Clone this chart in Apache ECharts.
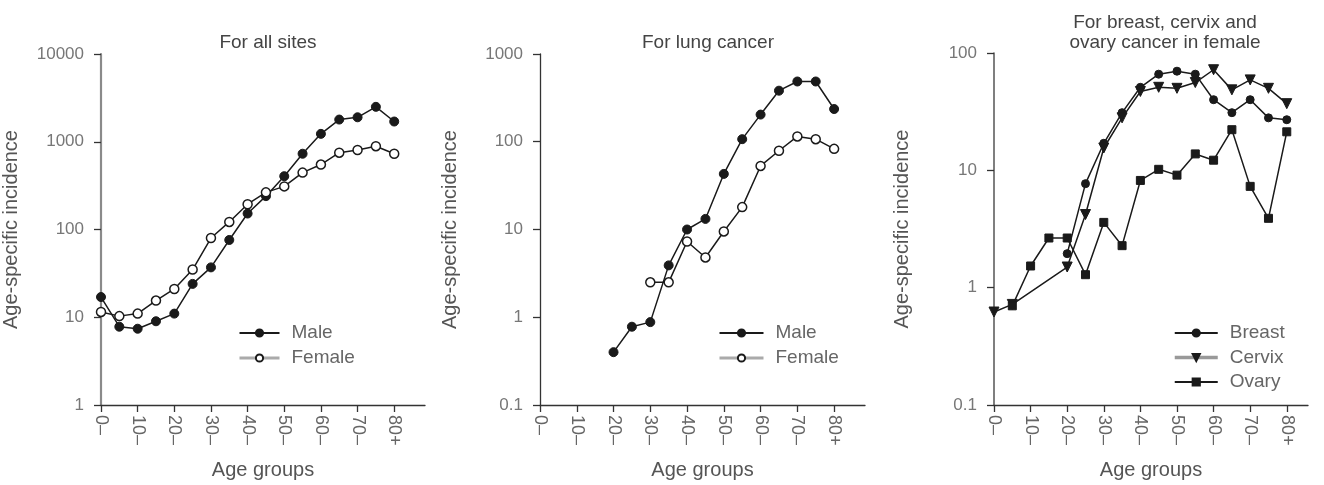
<!DOCTYPE html>
<html>
<head>
<meta charset="utf-8">
<script src="https://cdn.jsdelivr.net/npm/echarts@6/dist/echarts.min.js"></script>
<style>
html,body{margin:0;padding:0;background:#fff;}
#c{width:1324px;height:485px;}
</style>
</head>
<body>
<div id="c"></div>
<script>
// ---- data ----
const ageStarts = [0,5,10,15,20,25,30,35,40,45,50,55,60,65,70,75,80];
const tickValues = [0,10,20,30,40,50,60,70,80];
const tickLabels = ['0–','10–','20–','30–','40–','50–','60–','70–','80+'];

const allMale   = [17,7.8,7.4,9,11,24,37,76,152,240,405,730,1230,1790,1900,2500,1700];
const allFemale = [11.5,10.3,11,15.5,21,35,80,122,194,265,310,445,550,750,805,890,730];

const lungMale   = [null,null,null,null,0.4,0.78,0.88,3.9,10,13.2,43,107,204,382,486,486,236];
const lungFemale = [null,null,null,null,null,null,2.5,2.5,7.3,4.8,9.5,18,53,79,115,107,83];

const breast = [null,null,null,null,1.95,7.7,17,31,51,66,70,66,40,31,40,28,27];
const cervix = [0.62,0.72,null,null,1.5,4.2,15.5,28,47,51,50,56,72,48.5,59,50,37];
const ovary  = [null,0.7,1.53,2.65,2.65,1.29,3.6,2.28,8.2,10.2,9.1,13.8,12.2,22.2,7.3,3.9,21.3];

// ---- helpers ----
const ink = '#1a1a1a';
const FONT = 'Liberation Sans';
function pts(vals){ return ageStarts.map((a,i)=>[a, vals[i]]).filter(p=>p[1]!==null); }

function xAxis(gi, max){
  return {
    type:'value', gridIndex:gi, min:0, max:max,
    name:'Age groups', nameLocation:'middle', nameGap:55,
    nameTextStyle:{fontFamily:FONT,fontSize:20,color:'#555'},
    axisLine:{show:true,lineStyle:{color:'#333',width:1.3}},
    axisTick:{show:true,length:7,lineStyle:{color:'#333',width:1.3},customValues:tickValues},
    axisLabel:{show:true,rotate:-90,margin:10,fontFamily:FONT,fontSize:18,color:'#666',
      customValues:tickValues,
      formatter:function(v){ const i = tickValues.indexOf(Math.round(v)); return i>=0 ? tickLabels[i] : ''; }},
    splitLine:{show:false}
  };
}
function yAxis(gi, min, max, lineColor, lineWidth, gap){
  return {
    type:'log', logBase:10, gridIndex:gi, min:min, max:max,
    name:'Age-specific incidence', nameLocation:'middle', nameGap:gap,
    nameTextStyle:{fontFamily:FONT,fontSize:20,color:'#555'},
    axisLine:{show:true,lineStyle:{color:lineColor,width:lineWidth}},
    axisTick:{show:true,length:7,lineStyle:{color:'#333',width:1.3}},
    axisLabel:{show:true,margin:17,fontFamily:FONT,fontSize:17,color:'#777',
      formatter:function(v){ return String(+v.toPrecision(6)); }},
    minorTick:{show:false}, splitLine:{show:false}
  };
}
function lineSeries(name, gi, vals, symbol, size, open, rotate){
  return {
    name:name, type:'line', xAxisIndex:gi, yAxisIndex:gi,
    data:pts(vals), symbol:symbol, symbolSize:size, symbolRotate:rotate||0,
    showAllSymbol:true, connectNulls:true, animation:false,
    lineStyle:{color:ink,width:1.5},
    itemStyle: open ? {color:'#fff',borderColor:ink,borderWidth:1.5} : {color:ink,borderColor:ink,borderWidth:1},
    z: 3
  };
}
const titleStyle = {fontFamily:FONT,fontSize:19,fontWeight:'normal',color:'#444',lineHeight:20};
const legendText = {fontFamily:FONT,fontSize:19,color:'#666',lineHeight:20,padding:[0,0,0,7]};

const option = {
  backgroundColor:'#fff',
  animation:false,
  title:[
    {text:'For all sites', left:263, top:28, textAlign:'center', textStyle:titleStyle},
    {text:'For lung cancer', left:703, top:28, textAlign:'center', textStyle:titleStyle},
    {text:'For breast, cervix and\novary cancer in female', left:1160, top:8, textAlign:'center', textStyle:titleStyle}
  ],
  grid:[
    {left:100, top:54, width:325, height:353},
    {left:540, top:54, width:325, height:353},
    {left:994, top:53, width:314, height:354}
  ],
  xAxis:[ xAxis(0, 88.4), xAxis(1, 88.4), xAxis(2, 85.8) ],
  yAxis:[
    yAxis(0, 1, 10000, '#8a8a8a', 2.2, 80),
    yAxis(1, 0.1, 1000, '#333', 1.3, 80),
    yAxis(2, 0.1, 100, '#555', 1.5, 82)
  ],
  legend:[
    {orient:'vertical', left:233, top:318, itemWidth:40, itemHeight:9, itemGap:5, textStyle:legendText,
     data:[{name:'Male'},{name:'Female', lineStyle:{color:'#aaa',width:3}}]},
    {orient:'vertical', left:713, top:318, itemWidth:44, itemHeight:9, itemGap:5, textStyle:legendText,
     data:[{name:'Male '},{name:'Female ', lineStyle:{color:'#aaa',width:3}}]},
    {orient:'vertical', left:1168, top:318, itemWidth:43, itemHeight:9, itemGap:4.5, textStyle:legendText,
     data:[{name:'Breast'},{name:'Cervix', lineStyle:{color:'#999',width:3.5}},{name:'Ovary'}]}
  ],
  series:[
    lineSeries('Male',0,allMale,'circle',9,false),
    lineSeries('Female',0,allFemale,'circle',9,true),
    lineSeries('Male ',1,lungMale,'circle',9,false),
    lineSeries('Female ',1,lungFemale,'circle',9,true),
    lineSeries('Breast',2,breast,'circle',8,false),
    lineSeries('Cervix',2,cervix,'triangle',10,false,180),
    lineSeries('Ovary',2,ovary,'rect',8,false)
  ]
};
const chart = echarts.init(document.getElementById('c'), null, {renderer:'canvas'});
chart.setOption(option);
</script>
</body>
</html>
